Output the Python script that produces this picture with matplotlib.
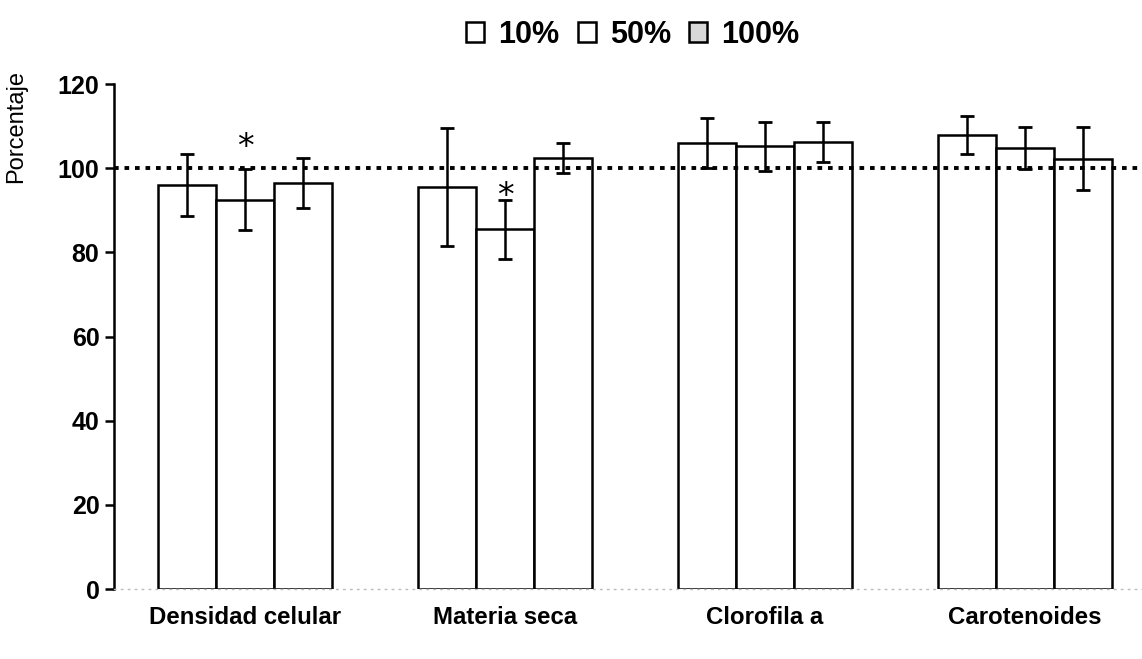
import numpy as np
import matplotlib.pyplot as plt
from matplotlib.patches import Patch

plt.rcParams['font.family'] = ['Liberation Sans', 'DejaVu Sans']

categories = ['Densidad celular', 'Materia seca', 'Clorofila a', 'Carotenoides']
series_names = ['10%', '50%', '100%']

vals_10 = [96.0, 95.5, 106.0, 107.8]
vals_50 = [92.5, 85.5, 105.2, 104.8]
vals_100 = [96.5, 102.4, 106.2, 102.2]

err_10 = [7.3, 14.0, 6.0, 4.5]
err_50 = [7.2, 7.0, 5.8, 5.0]
err_100 = [6.0, 3.5, 4.8, 7.5]

# significance marks: series index, category index, height of the star
signif_series = [1, 1]
signif_cat = [0, 1]
signif_y = [105.8, 94.0]

control = 100
yticks = [0, 20, 40, 60, 80, 100, 120]

values = [vals_10, vals_50, vals_100]
errors = [err_10, err_50, err_100]

fig = plt.figure(figsize=(11.42, 6.59), dpi=100)
ax = fig.add_axes([0.0998, 0.1062, 0.9002, 0.7663])

x = np.arange(len(categories))
width = 0.223
offsets = [-width, 0, width]

for vals, errs, off in zip(values, errors, offsets):
    ax.bar(x + off, vals, width, color='white', edgecolor='black', linewidth=1.8, zorder=2)
    ax.errorbar(x + off, vals, yerr=errs, fmt='none', ecolor='black',
                elinewidth=1.8, capsize=5, capthick=2, zorder=3)

for s, c, y in zip(signif_series, signif_cat, signif_y):
    ax.text(x[c] + offsets[s], y, '*', ha='center', va='center_baseline',
            fontsize=24, family='DejaVu Sans', zorder=4)

ax.axhline(control, color='black', linewidth=2.8, linestyle=(0, (1.2, 1.5)), zorder=4,
           clip_on=False)

ax.set_xlim(-0.504, 3.45)
ax.set_ylim(0, 120)
ax.set_yticks(yticks)
ax.set_yticklabels([str(t) for t in yticks], fontsize=18, fontweight='bold')
ax.set_xticks(x)
ax.set_xticklabels(categories, fontsize=17.3, fontweight='bold')
ax.tick_params(axis='x', length=0, pad=12)
ax.tick_params(axis='y', length=6.5, width=1.8, pad=4)
ax.set_ylabel('Porcentaje', fontsize=17)
ax.yaxis.set_label_coords(-0.084, 0.915)

ax.spines['top'].set_visible(False)
ax.spines['right'].set_visible(False)
ax.spines['left'].set_linewidth(1.8)
ax.spines['bottom'].set_color('#bbbbbb')
ax.spines['bottom'].set_linestyle((0, (1, 4)))
ax.spines['bottom'].set_linewidth(1)

handles = [Patch(facecolor='white', edgecolor='black', linewidth=1.8),
           Patch(facecolor='white', edgecolor='black', linewidth=1.8),
           Patch(facecolor='#d8d8d8', edgecolor='black', linewidth=1.8)]
fig.legend(handles, series_names, loc='center', bbox_to_anchor=(0.554, 0.947), ncol=3,
           frameon=False, prop={'weight': 'bold', 'size': 22},
           handlelength=0.6, handleheight=0.6, handletextpad=0.45, columnspacing=0.6)

fig.savefig('out.png', dpi=100)
